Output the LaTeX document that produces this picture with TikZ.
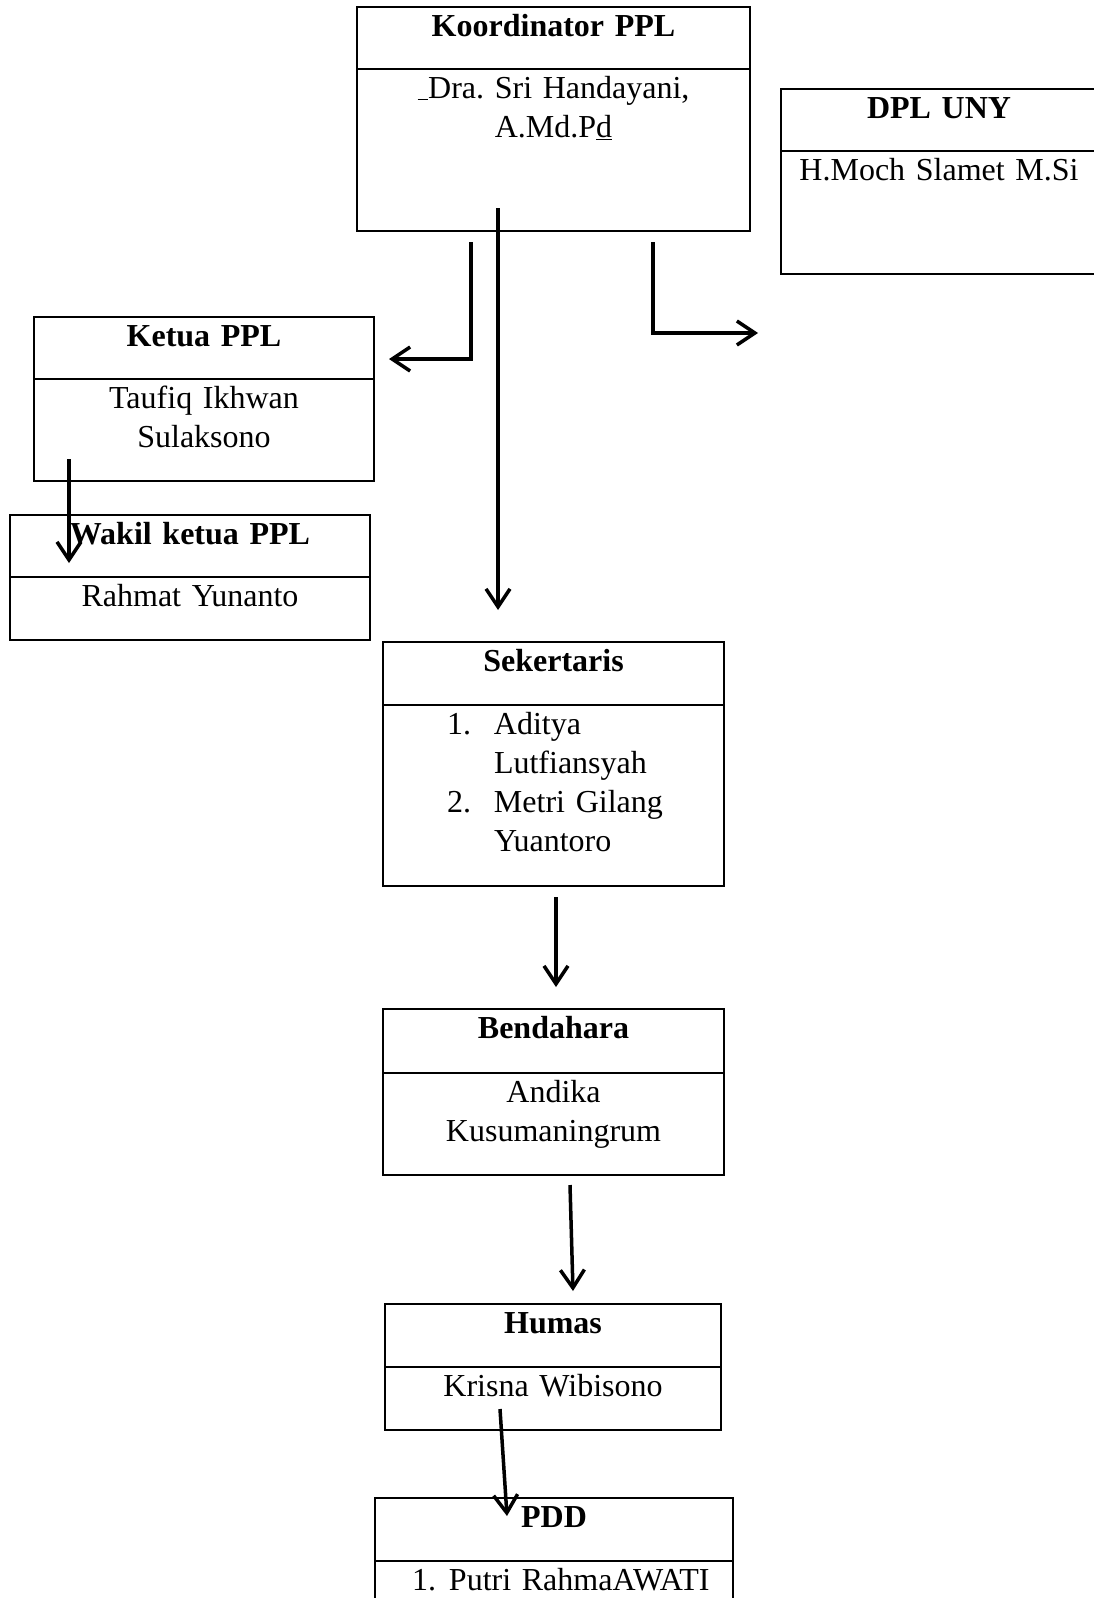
\documentclass[tikz,border=0pt]{standalone}
\usepackage{fontspec}
\setmainfont{Liberation Serif}
\usetikzlibrary{positioning,arrows.meta}
\frenchspacing

\tikzset{
  judul/.style={draw, line width=2pt, anchor=north west, inner sep=0pt, outer sep=0pt,
    align=center, text height=29pt, text depth=33pt,
    font=\fontsize{32}{39}\selectfont\bfseries},
  isi/.style={draw, line width=2pt, anchor=north, inner sep=0pt, outer sep=0pt,
    align=center, text height=29pt,
    font=\fontsize{32}{39}\selectfont},
  panah/.style={line width=3.5pt, -{Straight Barb[length=18pt,width=24pt]}},
}

\begin{document}
\begin{tikzpicture}[x=1pt,y=-1pt]
        \useasboundingbox (0,0) rectangle (1094,1598);
        \clip (0,0) rectangle (1094,1598);

        % koordinator dan DPL
        \node[judul, text width=393pt] (koordJ) at (357,7) {Koordinator PPL};
        \node[isi, text width=393pt, text depth=133pt, below=0pt of koordJ] (koordN)
             {\underline{\ }Dra. Sri Handayani,\\A.Md.P\underline{d}};

        \node[judul, text width=316pt] (dplJ) at (781,89) {DPL UNY};
        \node[isi, text width=316pt, text depth=94pt, below=0pt of dplJ] (dplN) {H.Moch Slamet M.Si};

        % ketua dan wakil
        \node[judul, text width=340pt] (ketuaJ) at (34,317) {Ketua PPL};
        \node[isi, text width=340pt, text depth=73pt, below=0pt of ketuaJ] (ketuaN)
             {Taufiq Ikhwan\\Sulaksono};

        \node[judul, text width=360pt] (wakilJ) at (10,515) {Wakil ketua PPL};
        \node[isi, text width=360pt, text depth=34pt, below=0pt of wakilJ] (wakilN) {Rahmat Yunanto};

        % pengurus
        \node[judul, text width=341pt, text depth=34pt] (sekJ) at (383,642) {Sekertaris};
        \node[isi, text width=341pt, text depth=152pt, align=left, below=0pt of sekJ] (sekN)
             {\hspace*{64pt}\makebox[47pt][l]{1.}Aditya\\
              \hspace*{111pt}Lutfiansyah\\
              \hspace*{64pt}\makebox[47pt][l]{2.}Metri Gilang\\
              \hspace*{111pt}Yuantoro};

        \node[judul, text width=341pt, text depth=35pt] (bendJ) at (383,1009) {Bendahara};
        \node[isi, text width=341pt, text depth=73pt, below=0pt of bendJ] (bendN)
             {Andika\\Kusumaningrum};

        \node[judul, text width=336pt, text depth=34pt] (humasJ) at (385,1304) {Humas};
        \node[isi, text width=336pt, text depth=34pt, below=0pt of humasJ] (humasN) {Krisna Wibisono};

        \node[judul, text width=358pt, text depth=34pt] (pddJ) at (375,1498) {PDD};
        \node[isi, text width=358pt, text depth=73pt, align=left, below=0pt of pddJ] (pddN)
             {\hspace*{37pt}\makebox[37pt][l]{1.}Putri RahmaAWATI};

        % panah
        \coordinate (p1) at (471,242);  \coordinate (q1) at (389,359);
        \coordinate (p2) at (498,208);  \coordinate (q2) at (498,610);
        \coordinate (p3) at (653,242);  \coordinate (q3) at (758,333);
        \coordinate (p4) at (69,459);   \coordinate (q4) at (69,563);
        \coordinate (p5) at (556,897);  \coordinate (q5) at (556,987);
        \coordinate (p6) at (570,1185); \coordinate (q6) at (573,1291);
        \coordinate (p7) at (500,1409); \coordinate (q7) at (507,1516);

        \draw[panah] (p1) |- (q1);
        \draw[panah] (p2) -- (q2);
        \draw[panah] (p3) |- (q3);
        \draw[panah] (p4) -- (q4);
        \draw[panah] (p5) -- (q5);
        \draw[panah] (p6) -- (q6);
        \draw[panah] (p7) -- (q7);
    \end{tikzpicture}
\end{document}
